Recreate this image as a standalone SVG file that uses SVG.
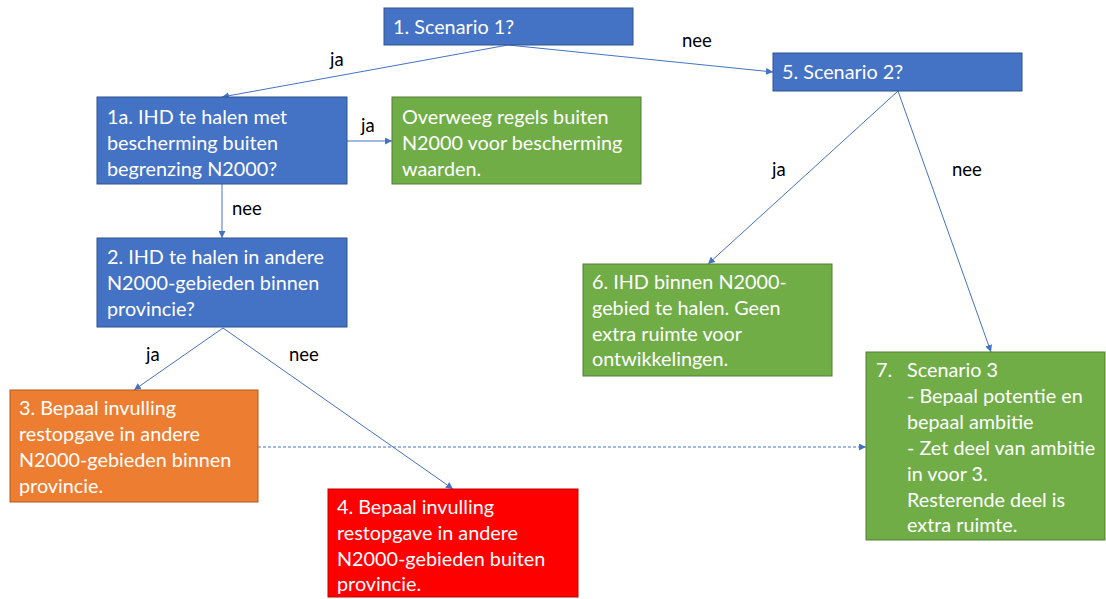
<svg xmlns="http://www.w3.org/2000/svg" width="1106" height="599" viewBox="0 0 1106 599">
  <defs>
    <marker id="arrow" viewBox="0 0 10 10" refX="10" refY="5" markerWidth="7" markerHeight="7" orient="auto" markerUnits="userSpaceOnUse">
      <path d="M0,0 L10,5 L0,10 z" fill="#4472C4"/>
    </marker>
    <style>
      .box { stroke-width: 1; }
      .blue { fill: #4472C4; stroke: #2F528F; }
      .green { fill: #70AD47; stroke: #507E32; }
      .orange { fill: #ED7D31; stroke: #AE5A21; }
      .red { fill: #FF0000; stroke: #C00000; }
      .t { font-family: Lato, "Open Sans", "Liberation Sans", sans-serif; font-size: 19.8px; fill: #FFFFFF; }
      .lbl { font-family: Lato, "Open Sans", "Liberation Sans", sans-serif; font-size: 18.5px; fill: #000000; }
      .edge { stroke: #4472C4; stroke-width: 1; fill: none; marker-end: url(#arrow); }
      .dotted { stroke-dasharray: 3 2; }
    </style>
  </defs>
  <rect width="1106" height="599" fill="#FFFFFF"/>

  <g id="connectors">
    <line class="edge" x1="508" y1="45" x2="222" y2="97"/>
    <line class="edge" x1="508" y1="45" x2="773" y2="72"/>
    <line class="edge" x1="347" y1="141" x2="392" y2="141"/>
    <line class="edge" x1="222" y1="184" x2="222" y2="238"/>
    <line class="edge" x1="223" y1="328" x2="134" y2="390"/>
    <line class="edge" x1="223" y1="328" x2="453" y2="489"/>
    <line class="edge" x1="898" y1="91" x2="708" y2="264"/>
    <line class="edge" x1="898" y1="91" x2="991" y2="352"/>
    <line class="edge dotted" x1="258" y1="447" x2="866" y2="447"/>
    <text class="lbl" x="330" y="66">ja</text>
    <text class="lbl" x="682" y="47">nee</text>
    <text class="lbl" x="361" y="132">ja</text>
    <text class="lbl" x="232" y="215">nee</text>
    <text class="lbl" x="146" y="361">ja</text>
    <text class="lbl" x="289" y="361">nee</text>
    <text class="lbl" x="772" y="176">ja</text>
    <text class="lbl" x="952" y="176">nee</text>
  </g>

  <g id="node-1">
    <rect class="box blue" x="384" y="8" width="249" height="37"/>
    <text class="t" x="393" y="34">1. Scenario 1?</text>
  </g>

  <g id="node-5">
    <rect class="box blue" x="773" y="53" width="249" height="38"/>
    <text class="t" x="782" y="79">5. Scenario 2?</text>
  </g>

  <g id="node-1a">
    <rect class="box blue" x="97" y="97" width="250" height="87"/>
    <text class="t" x="107" y="124">1a. IHD te halen met</text>
    <text class="t" x="107" y="150">bescherming buiten</text>
    <text class="t" x="107" y="176">begrenzing N2000?</text>
  </g>

  <g id="node-overweeg">
    <rect class="box green" x="392" y="97" width="249" height="87"/>
    <text class="t" x="402" y="124">Overweeg regels buiten</text>
    <text class="t" x="402" y="150">N2000 voor bescherming</text>
    <text class="t" x="402" y="176">waarden.</text>
  </g>

  <g id="node-2">
    <rect class="box blue" x="97" y="238" width="250" height="89"/>
    <text class="t" x="107" y="264">2. IHD te halen in andere</text>
    <text class="t" x="107" y="290">N2000-gebieden binnen</text>
    <text class="t" x="107" y="316">provincie?</text>
  </g>

  <g id="node-3">
    <rect class="box orange" x="10" y="390" width="248" height="112"/>
    <text class="t" x="19" y="415">3. Bepaal invulling</text>
    <text class="t" x="19" y="441">restopgave in andere</text>
    <text class="t" x="19" y="467">N2000-gebieden binnen</text>
    <text class="t" x="19" y="493">provincie.</text>
  </g>

  <g id="node-4">
    <rect class="box red" x="328" y="489" width="250" height="108"/>
    <text class="t" x="337" y="514">4. Bepaal invulling</text>
    <text class="t" x="337" y="540">restopgave in andere</text>
    <text class="t" x="337" y="566">N2000-gebieden buiten</text>
    <text class="t" x="337" y="591">provincie.</text>
  </g>

  <g id="node-6">
    <rect class="box green" x="583" y="264" width="249" height="112"/>
    <text class="t" x="592" y="289">6. IHD binnen N2000-</text>
    <text class="t" x="592" y="315">gebied te halen. Geen</text>
    <text class="t" x="592" y="341">extra ruimte voor</text>
    <text class="t" x="592" y="366">ontwikkelingen.</text>
  </g>

  <g id="node-7">
    <rect class="box green" x="866" y="352" width="239" height="188"/>
    <text class="t" x="876" y="377">7.</text>
    <text class="t" x="907" y="377">Scenario 3</text>
    <text class="t" x="907" y="403">- Bepaal potentie en</text>
    <text class="t" x="907" y="429">bepaal ambitie</text>
    <text class="t" x="907" y="455">- Zet deel van ambitie</text>
    <text class="t" x="907" y="481">in voor 3.</text>
    <text class="t" x="907" y="507">Resterende deel is</text>
    <text class="t" x="907" y="532">extra ruimte.</text>
  </g>
</svg>
